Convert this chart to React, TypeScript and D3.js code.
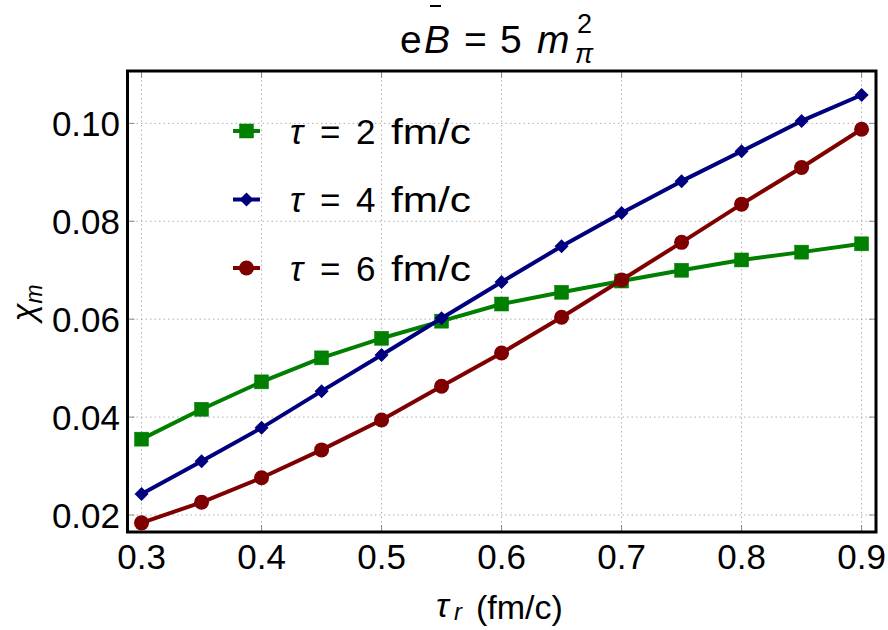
import React, { useEffect, useRef } from 'react';
import * as d3 from 'd3';

// relaxation time tau_r (fm/c)
const tauR = [0.3, 0.35, 0.4, 0.45, 0.5, 0.55, 0.6, 0.65, 0.7, 0.75, 0.8, 0.85, 0.9];

const chiTau2 = [0.0355, 0.0416, 0.0472, 0.0521, 0.0561, 0.0596, 0.0631, 0.0655, 0.0678, 0.0700, 0.0721, 0.0737, 0.0754];
const chiTau4 = [0.0243, 0.0310, 0.0378, 0.0453, 0.0527, 0.0602, 0.0676, 0.0749, 0.0817, 0.0882, 0.0943, 0.1005, 0.1058];
const chiTau6 = [0.0184, 0.0226, 0.0276, 0.0333, 0.0394, 0.0463, 0.0531, 0.0604, 0.0680, 0.0757, 0.0835, 0.0910, 0.0988];

const seriesNames = ['2', '4', '6'];
const xTicks = [0.3, 0.4, 0.5, 0.6, 0.7, 0.8, 0.9];
const yTicks = [0.02, 0.04, 0.06, 0.08, 0.10];

interface Series {
  name: string;
  values: number[];
  color: string;
  marker: 'square' | 'diamond' | 'circle';
}

const FONT = '"Liberation Sans", Arial, sans-serif';

const App: React.FC = () => {
  const svgRef = useRef<SVGSVGElement>(null);

  useEffect(() => {
    document.body.style.margin = '0';
    if (!svgRef.current) return;
    const width = 888;
    const height = 630;
    const plot = { left: 127.5, right: 876, top: 71, bottom: 532 };

    const svg = d3.select(svgRef.current);
    svg.selectAll('*').remove();
    svg.attr('width', width).attr('height', height);

    const x = d3.scaleLinear().domain([0.2883, 0.912]).range([plot.left, plot.right]);
    const y = d3.scaleLinear().domain([0.01653, 0.1107]).range([plot.bottom, plot.top]);

    const series: Series[] = [
      { name: seriesNames[0], values: chiTau2, color: '#007f00', marker: 'square' },
      { name: seriesNames[1], values: chiTau4, color: '#00007f', marker: 'diamond' },
      { name: seriesNames[2], values: chiTau6, color: '#7f0000', marker: 'circle' },
    ];

    svg.append('rect').attr('width', width).attr('height', height).attr('fill', '#fff');

    // grid
    const grid = svg.append('g');
    grid.selectAll('line.gx').data(xTicks).enter().append('line')
      .attr('x1', d => x(d)).attr('x2', d => x(d))
      .attr('y1', plot.top).attr('y2', plot.bottom)
      .attr('stroke', '#b0b0b0').attr('stroke-width', 1).attr('stroke-dasharray', '1.5,3');
    grid.selectAll('line.gy').data(yTicks).enter().append('line')
      .attr('x1', plot.left).attr('x2', plot.right)
      .attr('y1', d => y(d)).attr('y2', d => y(d))
      .attr('stroke', '#b0b0b0').attr('stroke-width', 1).attr('stroke-dasharray', '1.5,3');

    // inner ticks
    const ticks = svg.append('g').attr('stroke', '#888').attr('stroke-width', 1);
    xTicks.forEach(t => {
      ticks.append('line').attr('x1', x(t)).attr('x2', x(t)).attr('y1', plot.bottom).attr('y2', plot.bottom - 7);
      ticks.append('line').attr('x1', x(t)).attr('x2', x(t)).attr('y1', plot.top).attr('y2', plot.top + 7);
    });
    yTicks.forEach(t => {
      ticks.append('line').attr('x1', plot.left).attr('x2', plot.left + 7).attr('y1', y(t)).attr('y2', y(t));
      ticks.append('line').attr('x1', plot.right).attr('x2', plot.right - 7).attr('y1', y(t)).attr('y2', y(t));
    });

    const drawMarker = (g: d3.Selection<SVGGElement, unknown, null, undefined>, kind: string, cx: number, cy: number, color: string) => {
      if (kind === 'square') {
        g.append('rect').attr('x', cx - 7).attr('y', cy - 7).attr('width', 14).attr('height', 14)
          .attr('fill', color).attr('stroke', color).attr('stroke-width', 0.5);
      } else if (kind === 'diamond') {
        g.append('path').attr('d', `M${cx},${cy - 7}L${cx + 7},${cy}L${cx},${cy + 7}L${cx - 7},${cy}Z`)
          .attr('fill', color);
      } else {
        g.append('circle').attr('cx', cx).attr('cy', cy).attr('r', 7.5).attr('fill', color);
      }
    };

    const line = d3.line<number>()
      .x((_, i) => x(tauR[i]))
      .y(d => y(d));

    series.forEach(s => {
      const g = svg.append('g');
      g.append('path').datum(s.values).attr('d', line)
        .attr('fill', 'none').attr('stroke', s.color).attr('stroke-width', 4).attr('stroke-linejoin', 'round');
      s.values.forEach((v, i) => drawMarker(g, s.marker, x(tauR[i]), y(v), s.color));
    });

    // frame
    svg.append('rect')
      .attr('x', plot.left).attr('y', plot.top)
      .attr('width', plot.right - plot.left).attr('height', plot.bottom - plot.top)
      .attr('fill', 'none').attr('stroke', '#000').attr('stroke-width', 3);

    // tick labels
    svg.append('g').selectAll('text').data(xTicks).enter().append('text')
      .attr('x', d => x(d)).attr('y', 569)
      .attr('text-anchor', 'middle').attr('font-family', FONT).attr('font-size', 35)
      .text(d => d3.format('.1f')(d));
    svg.append('g').selectAll('text').data(yTicks).enter().append('text')
      .attr('x', 120).attr('y', d => y(d) + 12.5)
      .attr('text-anchor', 'end').attr('font-family', FONT).attr('font-size', 35)
      .text(d => d3.format('.2f')(d));

    // legend (mathtext-like wide spacing)
    const legend = svg.append('g');
    series.forEach((s, i) => {
      const cy = 131 + i * 68.5;
      legend.append('line').attr('x1', 233).attr('x2', 260).attr('y1', cy).attr('y2', cy)
        .attr('stroke', s.color).attr('stroke-width', 4);
      drawMarker(legend, s.marker, 246.5, cy, s.color);
      const t = legend.append('text').attr('y', cy + 12.5)
        .attr('font-family', FONT).attr('font-size', 35);
      t.append('tspan').attr('x', 290).attr('font-style', 'italic').text('τ');
      t.append('tspan').attr('x', 320).text('=');
      t.append('tspan').attr('x', 356).text(s.name);
      t.append('tspan').attr('x', 391).attr('textLength', 80).attr('lengthAdjust', 'spacingAndGlyphs').text('fm/c');
    });

    // title
    const title = svg.append('text').attr('y', 53)
      .attr('font-family', FONT).attr('font-size', 39);
    title.append('tspan').attr('x', 400).text('e');
    title.append('tspan').attr('x', 424).attr('font-style', 'italic').text('B');
    title.append('tspan').attr('x', 464).text('=');
    title.append('tspan').attr('x', 500).text('5');
    title.append('tspan').attr('x', 537).attr('font-style', 'italic').text('m');
    title.append('tspan').attr('x', 575).attr('y', 63).attr('font-style', 'italic').attr('font-size', 27).text('π');
    title.append('tspan').attr('x', 577).attr('y', 33).attr('font-size', 27).text('2');
    svg.append('line').attr('x1', 430).attr('x2', 441).attr('y1', 6).attr('y2', 6)
      .attr('stroke', '#000').attr('stroke-width', 2);

    // axis labels
    const xl = svg.append('text').attr('y', 617).attr('font-family', FONT).attr('font-size', 34);
    xl.append('tspan').attr('x', 436).attr('font-style', 'italic').text('τ');
    xl.append('tspan').attr('x', 454).attr('y', 620).attr('font-style', 'italic').attr('font-size', 24).text('r');
    xl.append('tspan').attr('x', 476).attr('y', 619).text('(fm/c)');

    const yl = svg.append('text').attr('transform', 'translate(35,303) rotate(-90)')
      .attr('text-anchor', 'middle').attr('font-family', FONT).attr('font-size', 33);
    yl.append('tspan').attr('font-style', 'italic').text('χ');
    yl.append('tspan').attr('font-style', 'italic').attr('font-size', 23).attr('dy', 7).text('m');
  }, []);

  return (
    <div style={{ width: 888, height: 630 }}>
      <svg ref={svgRef} width={888} height={630} style={{ display: 'block' }}></svg>
    </div>
  );
};

export default App;
